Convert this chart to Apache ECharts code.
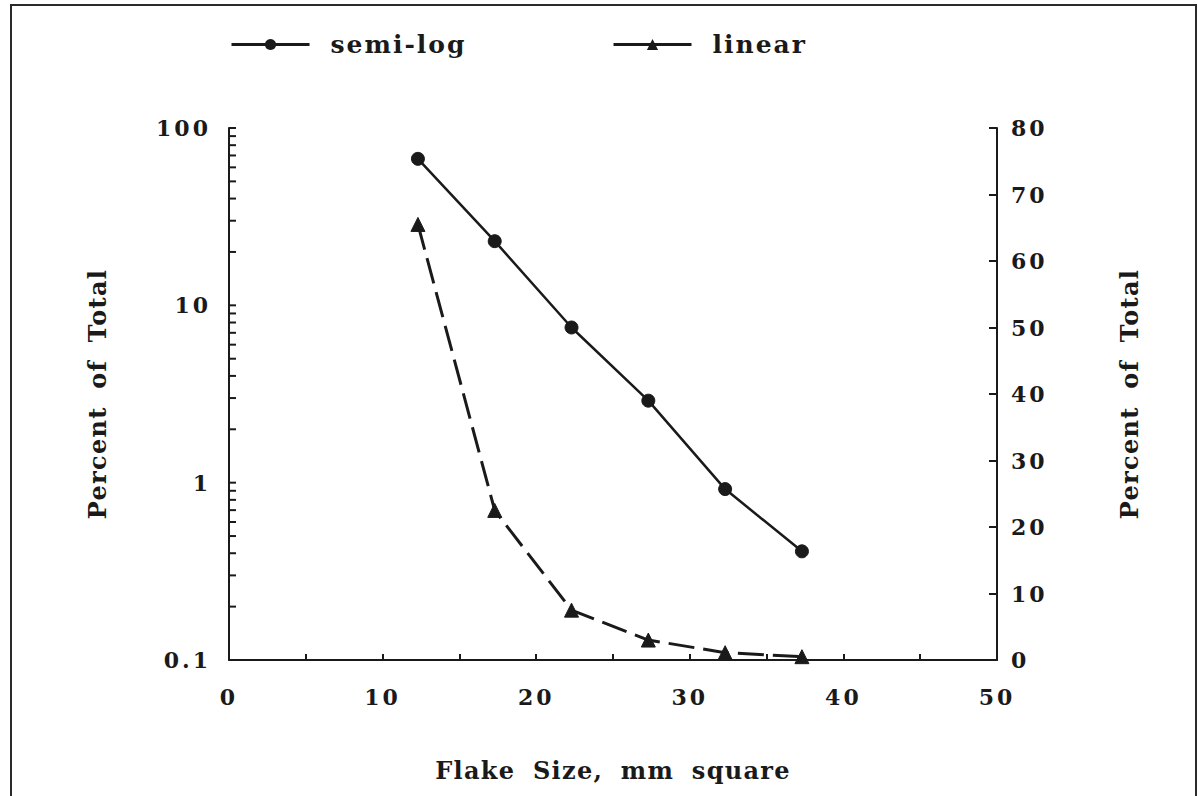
<!DOCTYPE html>
<html>
<head>
<meta charset="utf-8">
<script src="https://cdn.jsdelivr.net/npm/echarts@6/dist/echarts.min.js"></script>
<style>
  html, body { margin: 0; padding: 0; background: #fff; }
  #c { width: 1198px; height: 796px; }
  #c text[style*="24px"] { letter-spacing: 1.3px; word-spacing: 8px; }
  #c text[style*="25px"] { letter-spacing: 2px; }
  #c text[style*="22px"] { letter-spacing: 3px; }
</style>
</head>
<body>
<div id="c"></div>
<script>
// Flake size (mm square) – midpoints of size classes
const flakeSize = [12.3, 17.3, 22.3, 27.3, 32.3, 37.3];
// Percent of total plotted on the semi-log (left) axis
const semiLog = [67, 23, 7.5, 2.9, 0.92, 0.41];
// Percent of total plotted on the linear (right) axis
const linear = [65.5, 22.5, 7.5, 3.0, 1.1, 0.5];
// Tick labels / tick positions
const xTicks = [0, 10, 20, 30, 40, 50];
const logLabels = [0.1, 1, 10, 100];
const logTicks = [0.1, 0.2, 0.3, 0.4, 0.5, 0.6, 0.7, 0.8, 0.9,
                  1, 2, 3, 4, 5, 6, 7, 8, 9,
                  10, 20, 30, 40, 50, 60, 70, 80, 90, 100];
const linTicks = [0, 10, 20, 30, 40, 50, 60, 70, 80];

const FONT = '"DejaVu Serif", "Liberation Serif", serif';
const INK = '#1a1a1a';

const chart = echarts.init(document.getElementById('c'), null, { renderer: 'svg' });

const labelStyle = { color: INK, fontFamily: FONT, fontWeight: 'bold', fontSize: 22 };
const nameStyle = { color: INK, fontFamily: FONT, fontWeight: 'bold', fontSize: 24 };
const legendText = { color: INK, fontFamily: FONT, fontWeight: 'bold', fontSize: 25, padding: [0, 0, 0, 16] };
const axisLine = { show: true, lineStyle: { color: INK, width: 2 } };
const tickLine = { color: INK, width: 2 };

chart.setOption({
  animation: false,
  backgroundColor: '#fff',
  graphic: [{
    type: 'rect',
    shape: { x: 11, y: 5, width: 1185, height: 800 },
    style: { fill: 'none', stroke: '#2a2a2a', lineWidth: 2 },
    silent: true
  }],
  legend: [
    {
      data: ['semi-log'], left: 225, top: 27,
      itemWidth: 78, itemHeight: 14, itemGap: 0,
      lineStyle: { type: 'solid', width: 3 },
      textStyle: legendText
    },
    {
      data: ['linear'], left: 607, top: 27,
      itemWidth: 78, itemHeight: 14, itemGap: 0,
      lineStyle: { type: 'solid', width: 3 },
      textStyle: legendText
    }
  ],
  grid: { left: 229, right: 201, top: 128, bottom: 136, containLabel: false },
  xAxis: {
    type: 'value', min: 0, max: 50, interval: 10,
    name: 'Flake Size, mm square', nameLocation: 'middle', nameGap: 98,
    nameTextStyle: nameStyle,
    axisLine: axisLine, splitLine: { show: false },
    axisTick: { show: true, inside: true, length: 6, lineStyle: tickLine },
    minorTick: { show: true, splitNumber: 2, length: 6, lineStyle: tickLine },
    axisLabel: Object.assign({}, labelStyle, { margin: 26, customValues: xTicks })
  },
  yAxis: [
    {
      type: 'log', logBase: 10, min: 0.1, max: 100,
      position: 'left',
      name: 'Percent of Total', nameLocation: 'middle', nameGap: 120, nameRotate: 90,
      nameTextStyle: nameStyle,
      axisLine: axisLine, splitLine: { show: false },
      axisTick: { show: false },
      axisLabel: Object.assign({}, labelStyle, {
        margin: 18, customValues: logLabels,
        formatter: v => String(Math.round(v * 10) / 10)
      })
    },
    {
      type: 'value', min: 0, max: 80, interval: 10,
      position: 'right',
      name: 'Percent of Total', nameLocation: 'middle', nameGap: 120, nameRotate: 90,
      nameTextStyle: nameStyle,
      axisLine: axisLine, splitLine: { show: false },
      axisTick: { show: true, inside: true, length: 8, lineStyle: tickLine },
      axisLabel: Object.assign({}, labelStyle, { margin: 14, customValues: linTicks })
    }
  ],
  series: [
    {
      // log-cycle tick marks of the left axis, placed through the log scale
      name: 'logTicks', type: 'custom', xAxisIndex: 0, yAxisIndex: 0,
      data: logTicks.map(v => [0, v]),
      silent: true, clip: false, z: 4,
      renderItem: function (params, api) {
        const p = api.coord([0, api.value(1)]);
        return {
          type: 'line',
          shape: { x1: p[0], y1: p[1], x2: p[0] + 7, y2: p[1] },
          style: { stroke: INK, lineWidth: 2 }
        };
      }
    },
    {
      name: 'semi-log', type: 'line', yAxisIndex: 0,
      data: flakeSize.map((x, i) => [x, semiLog[i]]),
      symbol: 'circle', symbolSize: 13,
      lineStyle: { color: INK, width: 2.5, type: 'solid' },
      itemStyle: { color: INK, borderColor: INK },
      z: 3
    },
    {
      name: 'linear', type: 'line', yAxisIndex: 1,
      data: flakeSize.map((x, i) => [x, linear[i]]),
      symbol: 'triangle', symbolSize: 14,
      lineStyle: { color: INK, width: 3, type: [26, 9] },
      itemStyle: { color: INK, borderColor: INK },
      z: 3
    }
  ]
});
</script>
</body>
</html>
